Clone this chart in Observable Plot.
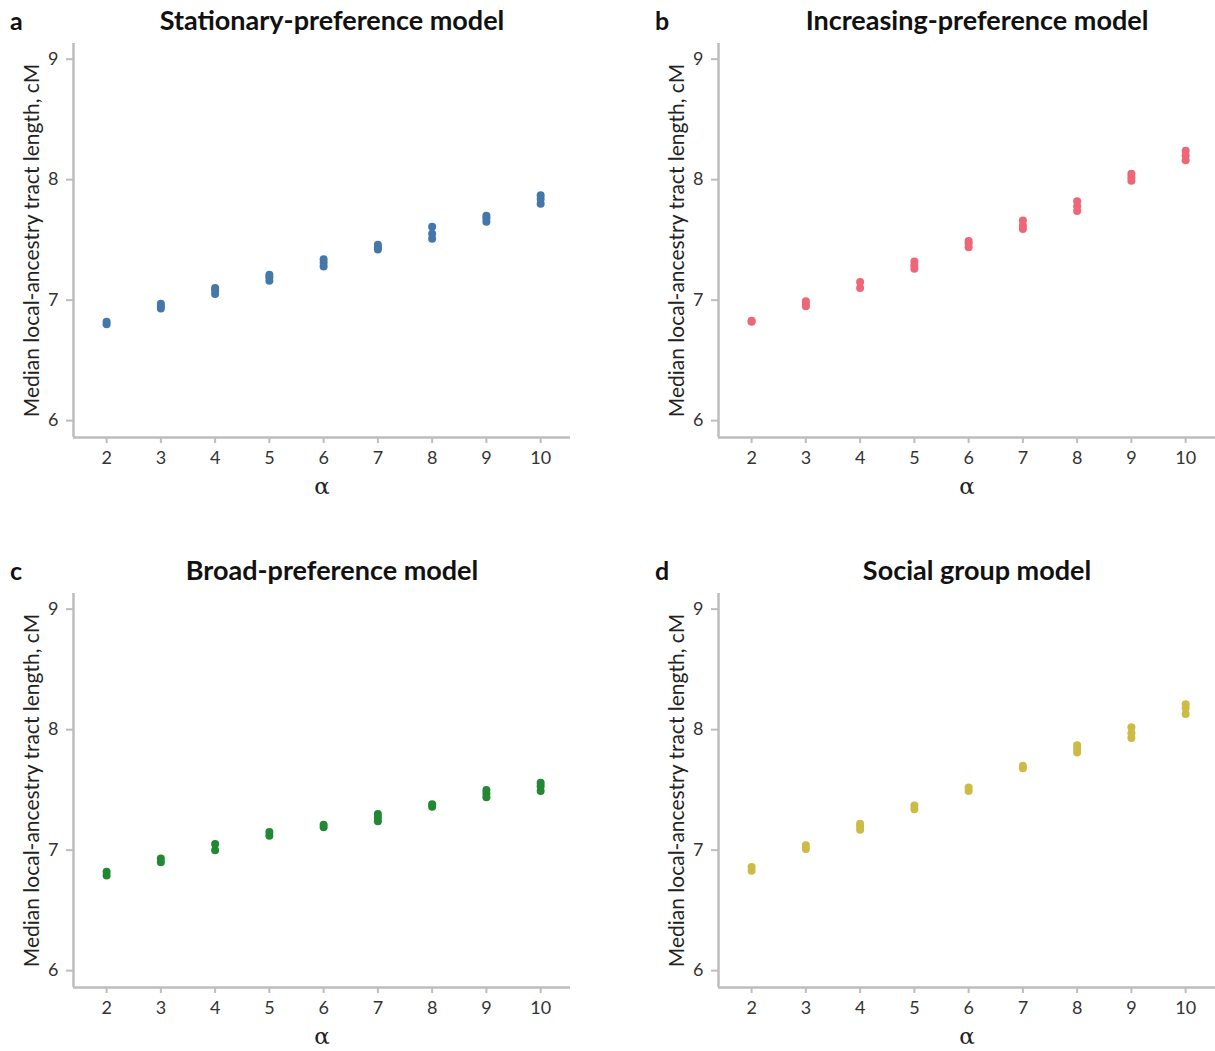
<!DOCTYPE html>
<html>
<head>
<meta charset="utf-8">
<script src="https://cdn.jsdelivr.net/npm/d3@7"></script>
<script src="https://cdn.jsdelivr.net/npm/@observablehq/plot@0.6"></script>
<style>
  body { margin: 0; background: #fff; }
  #fig { position: relative; width: 1215px; height: 1051px; font-family: Lato, "Open Sans", sans-serif; color: #111; }
  .panel { position: absolute; width: 572px; height: 520px; }
  .tag { position: absolute; left: 10px; top: 4px; font-weight: 700; font-size: 25px; line-height: 32px; }
  .title { position: absolute; left: 0; width: 664px; top: 4px; text-align: center; font-weight: 700; font-size: 27px; line-height: 32px; }
  .chart { position: absolute; left: 0; top: 30px; }
</style>
</head>
<body>
<div id="fig"></div>
<script>
// α values on the x axis
const alphas = [2, 3, 4, 5, 6, 7, 8, 9, 10];
const yTicks = [6, 7, 8, 9];

// Median local-ancestry tract length (cM), replicate simulations per α
const stationary = [
  [6.80, 6.82], [6.93, 6.95, 6.97], [7.05, 7.08, 7.10], [7.16, 7.19, 7.21],
  [7.28, 7.31, 7.34], [7.42, 7.44, 7.46], [7.51, 7.55, 7.61], [7.65, 7.68, 7.70], [7.80, 7.84, 7.87]
];
const increasing = [
  [6.82, 6.83], [6.95, 6.97, 6.99], [7.10, 7.15], [7.26, 7.29, 7.32],
  [7.44, 7.47, 7.49], [7.59, 7.62, 7.66], [7.74, 7.78, 7.82], [7.99, 8.02, 8.05], [8.16, 8.20, 8.24]
];
const broad = [
  [6.79, 6.82], [6.90, 6.93], [7.00, 7.05], [7.12, 7.15],
  [7.19, 7.21], [7.24, 7.27, 7.30], [7.36, 7.38], [7.44, 7.47, 7.50], [7.49, 7.53, 7.56]
];
const social = [
  [6.83, 6.86], [7.01, 7.04], [7.17, 7.20, 7.22], [7.34, 7.37],
  [7.49, 7.52], [7.68, 7.70], [7.81, 7.84, 7.87], [7.93, 7.97, 8.02], [8.13, 8.18, 8.21]
];

const panels = [
  { tag: "a", title: "Stationary-preference model", values: stationary, color: "#4477AA", left: 0,   top: 0 },
  { tag: "b", title: "Increasing-preference model", values: increasing, color: "#EE6677", left: 645, top: 0 },
  { tag: "c", title: "Broad-preference model",      values: broad,      color: "#228833", left: 0,   top: 550 },
  { tag: "d", title: "Social group model",          values: social,     color: "#CCBB44", left: 645, top: 550 }
];

const xDomain = [1.39, 10.55];
const yDomain = [5.86, 9.13];
const axisGrey = "#bdbdbd";

const fig = document.getElementById("fig");

for (const p of panels) {
  const rows = p.values.flatMap((vals, i) => vals.map(v => ({ alpha: alphas[i], value: v })));

  const panel = document.createElement("div");
  panel.className = "panel";
  panel.style.left = p.left + "px";
  panel.style.top = p.top + "px";

  const tag = document.createElement("div");
  tag.className = "tag";
  tag.textContent = p.tag;
  panel.appendChild(tag);

  const title = document.createElement("div");
  title.className = "title";
  title.textContent = p.title;
  panel.appendChild(title);

  const chart = Plot.plot({
    width: 572,
    height: 480,
    marginLeft: 73,
    marginRight: 2,
    marginTop: 13,
    marginBottom: 73,
    style: { fontFamily: "Lato, 'Open Sans', sans-serif", fontSize: "18px", color: "#333", background: "transparent", overflow: "visible" },
    x: { domain: xDomain },
    y: { domain: yDomain },
    marks: [
      Plot.axisX({ ticks: alphas, tickFormat: d3.format("d"), tickSize: 6, tickPadding: 8, stroke: axisGrey, strokeWidth: 2, fill: "#333", label: null }),
      Plot.axisY({ ticks: yTicks, tickFormat: d3.format("d"), tickSize: 7, tickPadding: 8, stroke: axisGrey, strokeWidth: 2, fill: "#333", label: null }),
      Plot.ruleX([xDomain[0]], { stroke: axisGrey, strokeWidth: 2.5 }),
      Plot.ruleY([yDomain[0]], { stroke: axisGrey, strokeWidth: 2.5 }),
      Plot.dot(rows, { x: "alpha", y: "value", r: 4, fill: p.color, stroke: "none" }),
      Plot.text(["Median local-ancestry tract length, cM"], {
        text: d => d, frameAnchor: "left", rotate: -90, dx: -41,
        textAnchor: "middle", lineAnchor: "middle", fontSize: 21, fill: "#222"
      }),
      Plot.text(["α"], {
        text: d => d, frameAnchor: "bottom", dy: 49, lineAnchor: "middle",
        fontSize: 23, fill: "#222", fontFamily: "'DejaVu Serif', serif"
      })
    ]
  });
  chart.classList.add("chart");
  panel.appendChild(chart);
  fig.appendChild(panel);
}
</script>
</body>
</html>
